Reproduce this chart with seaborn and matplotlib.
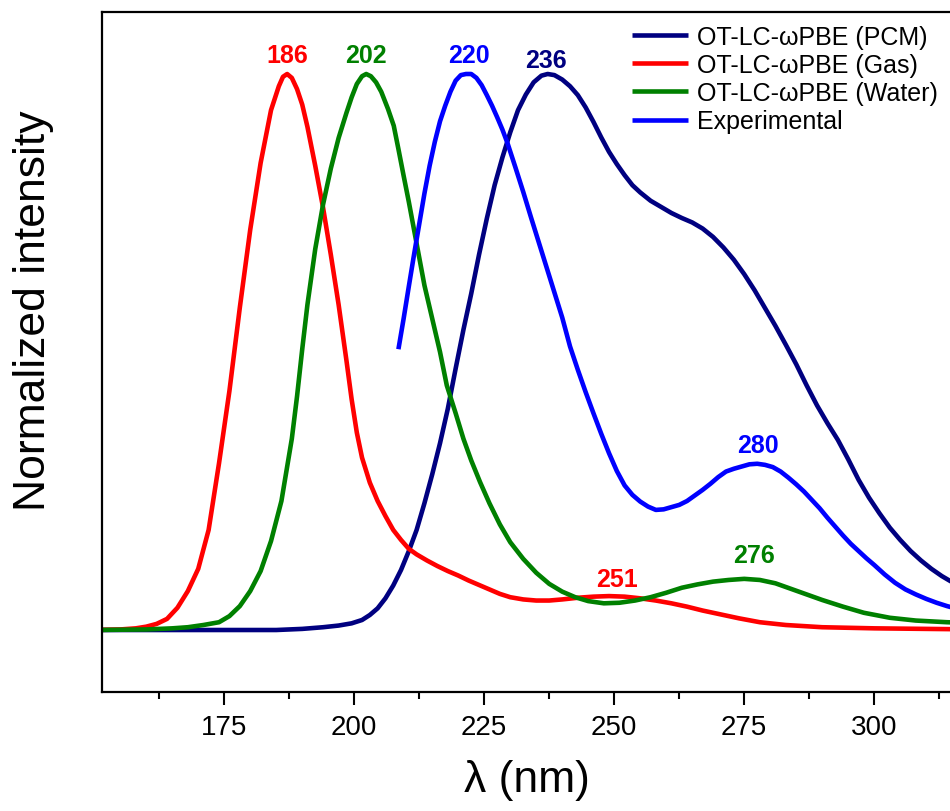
import pandas as pd
import matplotlib
matplotlib.use("Agg")
import matplotlib.pyplot as plt
from matplotlib.ticker import MultipleLocator
import seaborn as sns

# values (wavelength in nm, normalized intensity)
pcm_x = [150, 185, 190, 194, 197, 199.5, 201.5, 203, 204.5, 206, 207.5, 209, 210.5, 212,
         213.5, 215, 216.5, 218, 219.5, 221, 222.5, 224, 225.5, 227, 228.5, 230, 231.5,
         233, 234.5, 236, 237.2, 238.5, 240, 241.5, 243, 244.5, 246, 247.5, 249, 250.5,
         252, 253.5, 255, 257, 259, 261, 263, 265, 267, 269, 271, 273, 275, 277, 279,
         281, 283, 285, 287, 289, 291, 293, 295, 297, 299, 301, 303, 305, 307, 309, 311,
         313, 315, 318, 320]
pcm_y = [0, 0, 0.002, 0.005, 0.008, 0.012, 0.018, 0.027, 0.039, 0.057, 0.08, 0.108, 0.142,
         0.18, 0.228, 0.28, 0.336, 0.398, 0.47, 0.54, 0.605, 0.675, 0.74, 0.8, 0.85, 0.895,
         0.935, 0.963, 0.985, 0.997, 1.0, 0.998, 0.99, 0.978, 0.962, 0.94, 0.914, 0.886,
         0.86, 0.838, 0.818, 0.8, 0.787, 0.772, 0.761, 0.75, 0.741, 0.733, 0.722, 0.707,
         0.688, 0.666, 0.64, 0.611, 0.579, 0.547, 0.513, 0.478, 0.44, 0.404, 0.372, 0.342,
         0.307, 0.27, 0.238, 0.21, 0.184, 0.162, 0.142, 0.125, 0.11, 0.097, 0.086, 0.072,
         0.064]

gas_x = [150, 155, 158, 160, 162, 164, 166, 168, 170, 172, 174, 176, 178, 180, 182, 184,
         185.5, 186.3, 187.1, 188, 189, 190, 191, 192.5, 194, 195.5, 197, 198.5, 199.5,
         200.5, 201.5, 203, 204.5, 206, 207.5, 209, 210.5, 212, 214, 216, 218, 220, 222,
         224, 226, 228, 230, 232.5, 235, 237.5, 240, 243, 246, 249, 252, 255, 258, 261,
         264, 267, 270, 274, 278, 283, 290, 300, 320]
gas_y = [0, 0.001, 0.003, 0.006, 0.011, 0.02, 0.04, 0.07, 0.11, 0.18, 0.30, 0.43, 0.58,
         0.72, 0.84, 0.935, 0.978, 0.995, 1.0, 0.993, 0.973, 0.945, 0.905, 0.835, 0.76,
         0.675, 0.585, 0.485, 0.415, 0.355, 0.31, 0.265, 0.232, 0.205, 0.18, 0.162, 0.146,
         0.136, 0.125, 0.115, 0.106, 0.098, 0.089, 0.081, 0.073, 0.065, 0.059, 0.055, 0.053,
         0.053, 0.055, 0.058, 0.060, 0.061, 0.060, 0.057, 0.053, 0.048, 0.042, 0.035, 0.029,
         0.021, 0.014, 0.009, 0.005, 0.003, 0.001]

water_x = [150, 160, 165, 168, 171, 174, 176, 178, 180, 182, 184, 186, 188, 189, 190, 191,
           192.5, 194, 195.5, 197, 198.5, 199.5, 200.5, 201.5, 202.3, 203.2, 204.2, 205.2,
           206.5, 207.6, 208.5, 209.5, 210.5, 211.5, 212.5, 213.5, 214.5, 215.5, 216.5,
           217.8, 219.5, 221, 222.5, 224.2, 226, 228, 230, 232.5, 235, 237.5, 240, 242.5,
           245, 248, 251, 254, 257, 260, 263, 266, 269, 272, 275, 278, 281, 284, 287, 290,
           294, 298, 303, 308, 314, 320]
water_y = [0, 0.001, 0.003, 0.005, 0.009, 0.014, 0.025, 0.043, 0.07, 0.106, 0.16, 0.232,
           0.344, 0.42, 0.505, 0.585, 0.685, 0.765, 0.83, 0.885, 0.93, 0.958, 0.982, 0.996,
           1.0, 0.996, 0.985, 0.968, 0.937, 0.907, 0.865, 0.817, 0.77, 0.72, 0.67, 0.62,
           0.58, 0.54, 0.50, 0.44, 0.39, 0.344, 0.305, 0.266, 0.228, 0.19, 0.158, 0.128,
           0.103, 0.083, 0.069, 0.059, 0.052, 0.048, 0.049, 0.053, 0.059, 0.067, 0.076,
           0.082, 0.087, 0.090, 0.092, 0.090, 0.084, 0.074, 0.064, 0.054, 0.042, 0.031,
           0.022, 0.017, 0.014, 0.012]

exp_x = [208.5, 209.5, 210.5, 211.5, 212.5, 213.5, 214.5, 215.5, 216.5, 217.5, 218.5, 219.5,
         220.5, 221.5, 222.5, 223.5, 224.5, 225.5, 226.5, 227.5, 228.5, 229.5, 231, 232.5,
         234, 235.5, 237, 238.5, 240, 241.5, 243, 244.5, 246, 247.5, 249, 250.5, 252, 253.5,
         255, 256.5, 258, 259.5, 261, 262.5, 264, 265.5, 267, 268.5, 270, 271.5, 273, 274.5,
         276, 277.5, 279, 280.5, 282, 283.5, 285, 286.5, 288, 289.5, 291, 292.5, 294, 295.5,
         297, 298.5, 300, 302, 304, 306, 308, 310, 312, 314, 316, 318, 320]
exp_y = [0.505, 0.56, 0.618, 0.675, 0.73, 0.785, 0.835, 0.878, 0.915, 0.943, 0.968, 0.988,
         0.998, 1.0, 1.0, 0.993, 0.98, 0.962, 0.943, 0.922, 0.9, 0.875, 0.832, 0.788, 0.742,
         0.697, 0.652, 0.607, 0.562, 0.51, 0.468, 0.428, 0.39, 0.353, 0.318, 0.286, 0.26,
         0.243, 0.231, 0.222, 0.216, 0.217, 0.221, 0.225, 0.232, 0.242, 0.252, 0.263, 0.275,
         0.285, 0.29, 0.294, 0.298, 0.299, 0.297, 0.293, 0.285, 0.274, 0.262, 0.249, 0.234,
         0.219, 0.202, 0.186, 0.17, 0.155, 0.142, 0.129, 0.117, 0.1, 0.085, 0.073, 0.064,
         0.056, 0.049, 0.043, 0.038, 0.034, 0.031]

series_names = ["OT-LC-\u03c9PBE (PCM)", "OT-LC-\u03c9PBE (Gas)",
                "OT-LC-\u03c9PBE (Water)", "Experimental"]
series_colors = ["#000080", "#FF0000", "#008000", "#0000FF"]

# peak annotations: text, colour, x, y (baseline)
peak_text = ["186", "202", "220", "236", "251", "276", "280"]
peak_color = ["#FF0000", "#008000", "#0000FF", "#000080", "#FF0000", "#008000", "#0000FF"]
peak_x = [187.1, 202.3, 222.0, 236.9, 250.5, 276.9, 277.6]
peak_y = [1.022, 1.022, 1.022, 1.012, 0.079, 0.123, 0.321]

df = pd.concat([
    pd.DataFrame({"wl": xs, "inten": ys, "series": name})
    for xs, ys, name in zip([pcm_x, gas_x, water_x, exp_x],
                            [pcm_y, gas_y, water_y, exp_y], series_names)
])

sns.set_style("ticks")
plt.rcParams["font.family"] = ["Liberation Sans", "DejaVu Sans"]
plt.rcParams["text.color"] = "black"
plt.rcParams["axes.labelcolor"] = "black"
plt.rcParams["xtick.color"] = "black"
plt.rcParams["ytick.color"] = "black"

fig = plt.figure(figsize=(9.5, 8.12), dpi=100)
ax = fig.add_axes([0.1074, 0.14655, 0.9223, 0.83744])

for name, col in zip(series_names, series_colors):
    sub = df[df["series"] == name]
    sns.lineplot(data=sub, x="wl", y="inten", color=col, linewidth=3.3,
                 label=name, ax=ax, estimator=None, sort=False,
                 solid_joinstyle="round", solid_capstyle="butt")

for t, c, x, y in zip(peak_text, peak_color, peak_x, peak_y):
    ax.text(x, y, t, color=c, fontsize=18, fontweight="bold", ha="center", va="baseline")

ax.set_xlim(151.5, 320)
ax.set_ylim(-0.1115, 1.1115)
ax.xaxis.set_major_locator(MultipleLocator(25))
ax.xaxis.set_minor_locator(MultipleLocator(12.5))
ax.set_yticks([])
ax.tick_params(axis="x", which="major", length=9.5, width=1.5, labelsize=20, pad=6,
               direction="out", colors="black")
ax.tick_params(axis="x", which="minor", length=5, width=1.5, direction="out")
for sp in ax.spines.values():
    sp.set_linewidth(1.6)
    sp.set_color("black")

ax.set_xlabel("\u03bb (nm)", fontsize=32)
ax.set_ylabel("Normalized intensity", fontsize=32)
ax.xaxis.set_label_coords(527 / 950, 1 - 760 / 812, transform=fig.transFigure)
ax.yaxis.set_label_coords(54 / 950, 1 - 311 / 812, transform=fig.transFigure)

ax.legend(loc="upper left", bbox_to_anchor=(632 / 950, 1 - 25.5 / 812),
          bbox_transform=fig.transFigure, frameon=False, fontsize=18,
          handlelength=2.24, handletextpad=0.36, labelspacing=0.17,
          borderpad=0, borderaxespad=0)

fig.savefig("out.png", dpi=100, facecolor="white")
